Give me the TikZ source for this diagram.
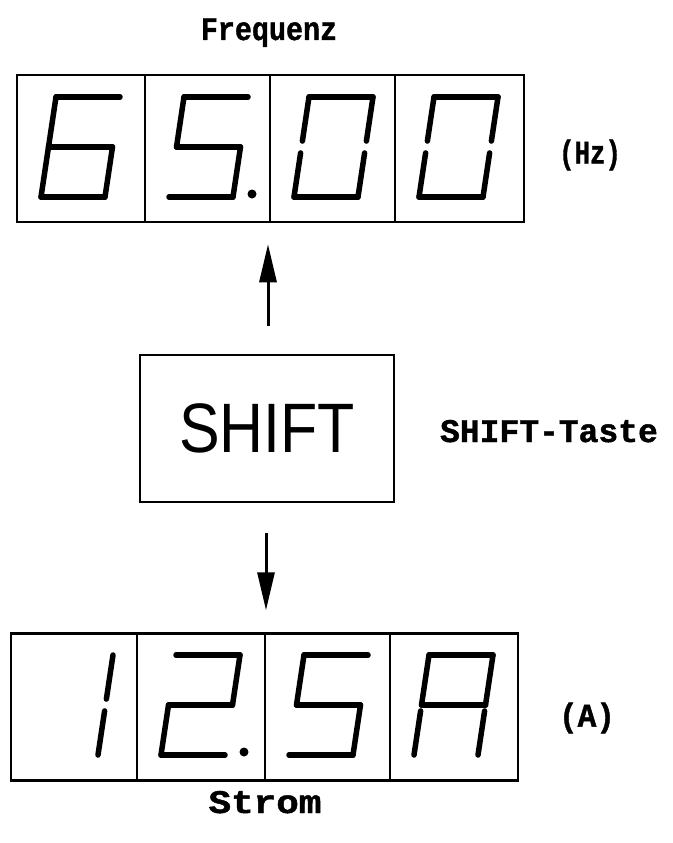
\documentclass[tikz,border=0pt]{standalone}
\usepackage{fontspec}
\setmainfont{DejaVu Serif}
\setsansfont{Liberation Sans}
\newfontfamily\labfont{Liberation Mono}[BoldFeatures={FakeBold=1.3}]
\usetikzlibrary{arrows.meta,calc}

\newcommand\segW{64}
\newcommand\segH{100}
\newcommand\segS{15}
\newcommand\segA{\draw[seg] (TL)--(TR);}
\newcommand\segB{\draw[seg] (TR)--(MR);}
\newcommand\segC{\draw[seg] (MR)--(BR);}
\newcommand\segD{\draw[seg] (BL)--(BR);}
\newcommand\segE{\draw[seg] (ML)--(BL);}
\newcommand\segF{\draw[seg] (TL)--(ML);}
\newcommand\segG{\draw[seg] (ML)--(MR);}
\newcommand\segBg{\draw[seg,shorten >=6pt] (TR)--(MR);}
\newcommand\segCg{\draw[seg,shorten <=6pt] (MR)--(BR);}
\newcommand\segEg{\draw[seg,shorten <=6pt] (ML)--(BL);}
\newcommand\segFg{\draw[seg,shorten >=6pt] (TL)--(ML);}
\newcommand\sevdigit[3]{%
  \begin{scope}[shift={(#1,#2)}]
    \coordinate (BL) at (0,0);
    \coordinate (BR) at (\segW,0);
    \coordinate (ML) at ({\segS/2},{-\segH/2});
    \coordinate (MR) at ({\segW+\segS/2},{-\segH/2});
    \coordinate (TL) at (\segS,-\segH);
    \coordinate (TR) at ({\segW+\segS},-\segH);
    #3
  \end{scope}}

\tikzset{
  seg/.style={line width=5.5pt, line cap=round, line join=round},
  display/.style={draw, line width=2.5pt, minimum width=507pt, minimum height=147pt, inner sep=0pt},
  keybox/.style={draw, line width=2.5pt, minimum width=254pt, minimum height=147pt, inner sep=0pt,
    font=\sffamily\fontsize{70}{70}\selectfont},
  cellline/.style={line width=2.5pt},
  label/.style={font=\labfont\bfseries\fontsize{33}{33}\selectfont, inner sep=0pt},
  arr/.style={line width=3pt, -{Triangle[length=38pt,width=17pt]}},
  dotpt/.style={fill=black}
}

\begin{document}
\begin{tikzpicture}[x=1pt,y=-1pt]
  \useasboundingbox (0,0) rectangle (672,843);

  % top display
  \node[display] (topdisp) at (270.5,148.5) {};
  \foreach \cx in {145,270,395}
    \draw[cellline] (\cx,75) -- (\cx,222);
  \sevdigit{41}{197}{\segA\segF\segG\segE\segD\segC}
  \sevdigit{169}{197}{\segA\segF\segG\segC\segD}
  \sevdigit{294}{197}{\segA\segBg\segCg\segD\segEg\segFg}
  \sevdigit{419}{197}{\segA\segBg\segCg\segD\segEg\segFg}
  \fill[dotpt] (252,194) circle (4.5);

  % shift key
  \node[keybox] (shiftkey) at (267,428.5) {\scalebox{0.87}[1]{SHIFT}};

  % bottom display
  \node[display] (botdisp) at (264.5,707) {};
  \foreach \cx in {137,265,390}
    \draw[cellline] (\cx,633.5) -- (\cx,780.5);
  \sevdigit{34}{755}{\segBg\segCg}
  \sevdigit{161}{755}{\segA\segB\segG\segE\segD}
  \sevdigit{289}{755}{\segA\segF\segG\segC\segD}
  \sevdigit{414}{755}{\segA\segB\segF\segG\segCg\segEg}
  \fill[dotpt] (244,752) circle (4.5);

  % arrows
  \draw[arr, shorten <=28pt, shorten >=21pt] ([xshift=1pt]shiftkey.north) -- ([xshift=1pt]shiftkey.north |- topdisp.south);
  \draw[arr, shorten <=30pt, shorten >=22pt] ([xshift=-1pt]shiftkey.south) -- ([xshift=-1pt]shiftkey.south |- botdisp.north);

  % labels
  \node[label, anchor=base] (freq) at (269,40) {\scalebox{0.86}[1]{Frequenz}};
  \node[label] (hz) at (590,155) {\scalebox{0.78}[1]{(Hz)}};
  \node[label, anchor=base] (taste) at (549,442) {SHIFT-Taste};
  \node[label] (amp) at (587,718) {\scalebox{0.94}[1]{(A)}};
  \node[label, anchor=base] (strom) at (265,813) {\scalebox{1.14}[1]{Strom}};
\end{tikzpicture}
\end{document}
